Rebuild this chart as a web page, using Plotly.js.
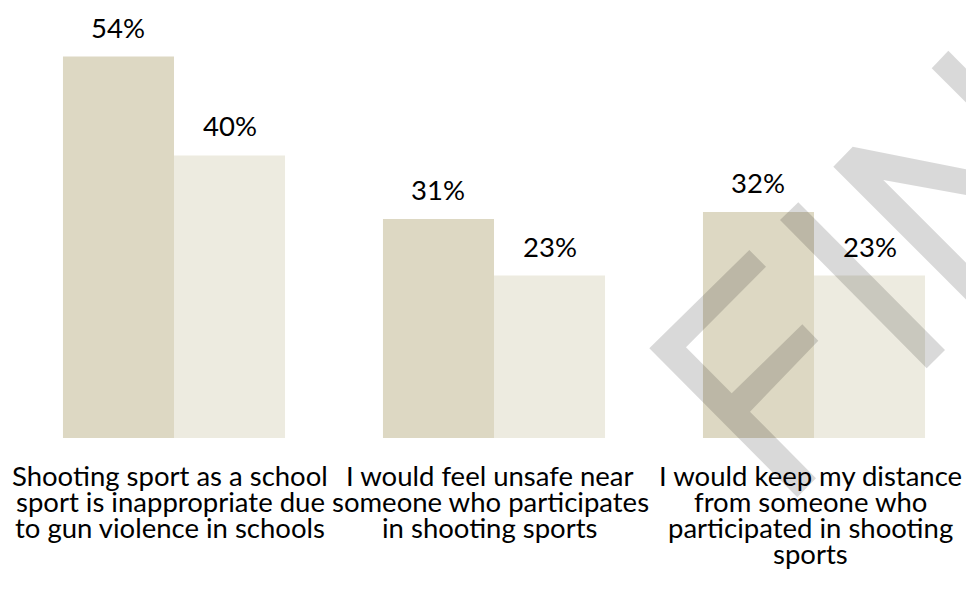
<!DOCTYPE html>
<html>
<head>
<meta charset="utf-8">
<script src="https://cdn.plot.ly/plotly-3.0.1.min.js"></script>
<style>html,body{margin:0;padding:0;background:#fff;}#chart{width:966px;height:597px;}</style>
</head>
<body>
<div id="chart"></div>
<script>
// ---- data ----
const categories = [
  "Shooting sport as a school sport is inappropriate due to gun violence in schools",
  "I would feel unsafe near someone who participates in shooting sports",
  "I would keep my distance from someone who participated in shooting sports"
];
const categoryLines = [
  ["Shooting sport as a school", "sport is inappropriate due", "to gun violence in schools"],
  ["I would feel unsafe near", "someone who participates", "in shooting sports"],
  ["I would keep my distance", "from someone who", "participated in shooting", "sports"]
];
const seriesA = [54, 31, 32];
const seriesB = [40, 23, 23];

// ---- style ----
const FONT = "Lato, 'Open Sans', sans-serif";
const FS = 27.5;
const colA = "#DDD8C3";
const colB = "#EDEBE0";
const bargap = 0.306;
const W = 966, H = 597;
const M = {l: 14, r: 0, t: 0, b: 159};
const plotW = W - M.l - M.r, plotH = H - M.t - M.b;

const traces = [
  {type: "bar", x: categories.map((c, i) => i), y: seriesA, marker: {color: colA}, hoverinfo: "none", name: "A"},
  {type: "bar", x: categories.map((c, i) => i), y: seriesB, marker: {color: colB}, hoverinfo: "none", name: "B"}
];

const annotations = [];
const half = (1 - bargap) / 4;
[seriesA, seriesB].forEach((vals, s) => {
  vals.forEach((v, i) => {
    annotations.push({
      x: i + (s === 0 ? -half : half), y: v, xref: "x", yref: "y",
      text: v + "%", showarrow: false, yanchor: "bottom", yshift: 11,
      font: {family: FONT, size: FS, color: "#000"}
    });
  });
});
categoryLines.forEach((lines, i) => {
  lines.forEach((ln, j) => {
    annotations.push({
      x: i, y: 0, xref: "x", yref: "y", text: ln, showarrow: false,
      yanchor: "top", xshift: -4, yshift: -(18.5 + 26 * j),
      font: {family: FONT, size: FS, color: "#000"}
    });
  });
});

// watermark (decorative, pixel positions converted to paper)
function P(pts) {
  return "M " + pts.map(p => ((p[0] - M.l) / plotW).toFixed(5) + "," + ((M.t + plotH - p[1]) / plotH).toFixed(5)).join(" L ") + " Z";
}
const wm = [
  [[749.3,250],[766,266.7],[686,347.3],[731.7,393.3],[802.3,324.3],[818.3,340.7],[750,411.7],[816,478.3],[797.3,497.3],[649.3,348.3]],
  [[798.3,202.3],[945,350],[926.7,368.3],[780,220]],
  [[852.7,146.7],[1000,176],[1000,201],[883.3,180],[1000,296.7],[1000,333.4],[833.3,166.7]],
  [[948.3,50.7],[1000,102.4],[1000,136.6],[931.7,68.3]]
];
const shapes = wm.map(pts => ({
  type: "path", xref: "paper", yref: "paper", path: P(pts),
  fillcolor: "rgba(0,0,0,0.15)", line: {width: 0}, layer: "above"
}));

const layout = {
  width: W, height: H, margin: M,
  paper_bgcolor: "#fff", plot_bgcolor: "#fff",
  barmode: "group", bargap: bargap, bargroupgap: 0,
  showlegend: false,
  xaxis: {type: "linear", range: [-0.5, -0.5 + plotW / 320], showticklabels: false, showgrid: false, zeroline: false, showline: false, ticks: "", fixedrange: true},
  yaxis: {range: [0, 62], visible: false, showgrid: false, zeroline: false, fixedrange: true},
  annotations: annotations, shapes: shapes,
  font: {family: FONT}
};
Plotly.newPlot("chart", traces, layout, {displayModeBar: false, staticPlot: true});
</script>
</body>
</html>
